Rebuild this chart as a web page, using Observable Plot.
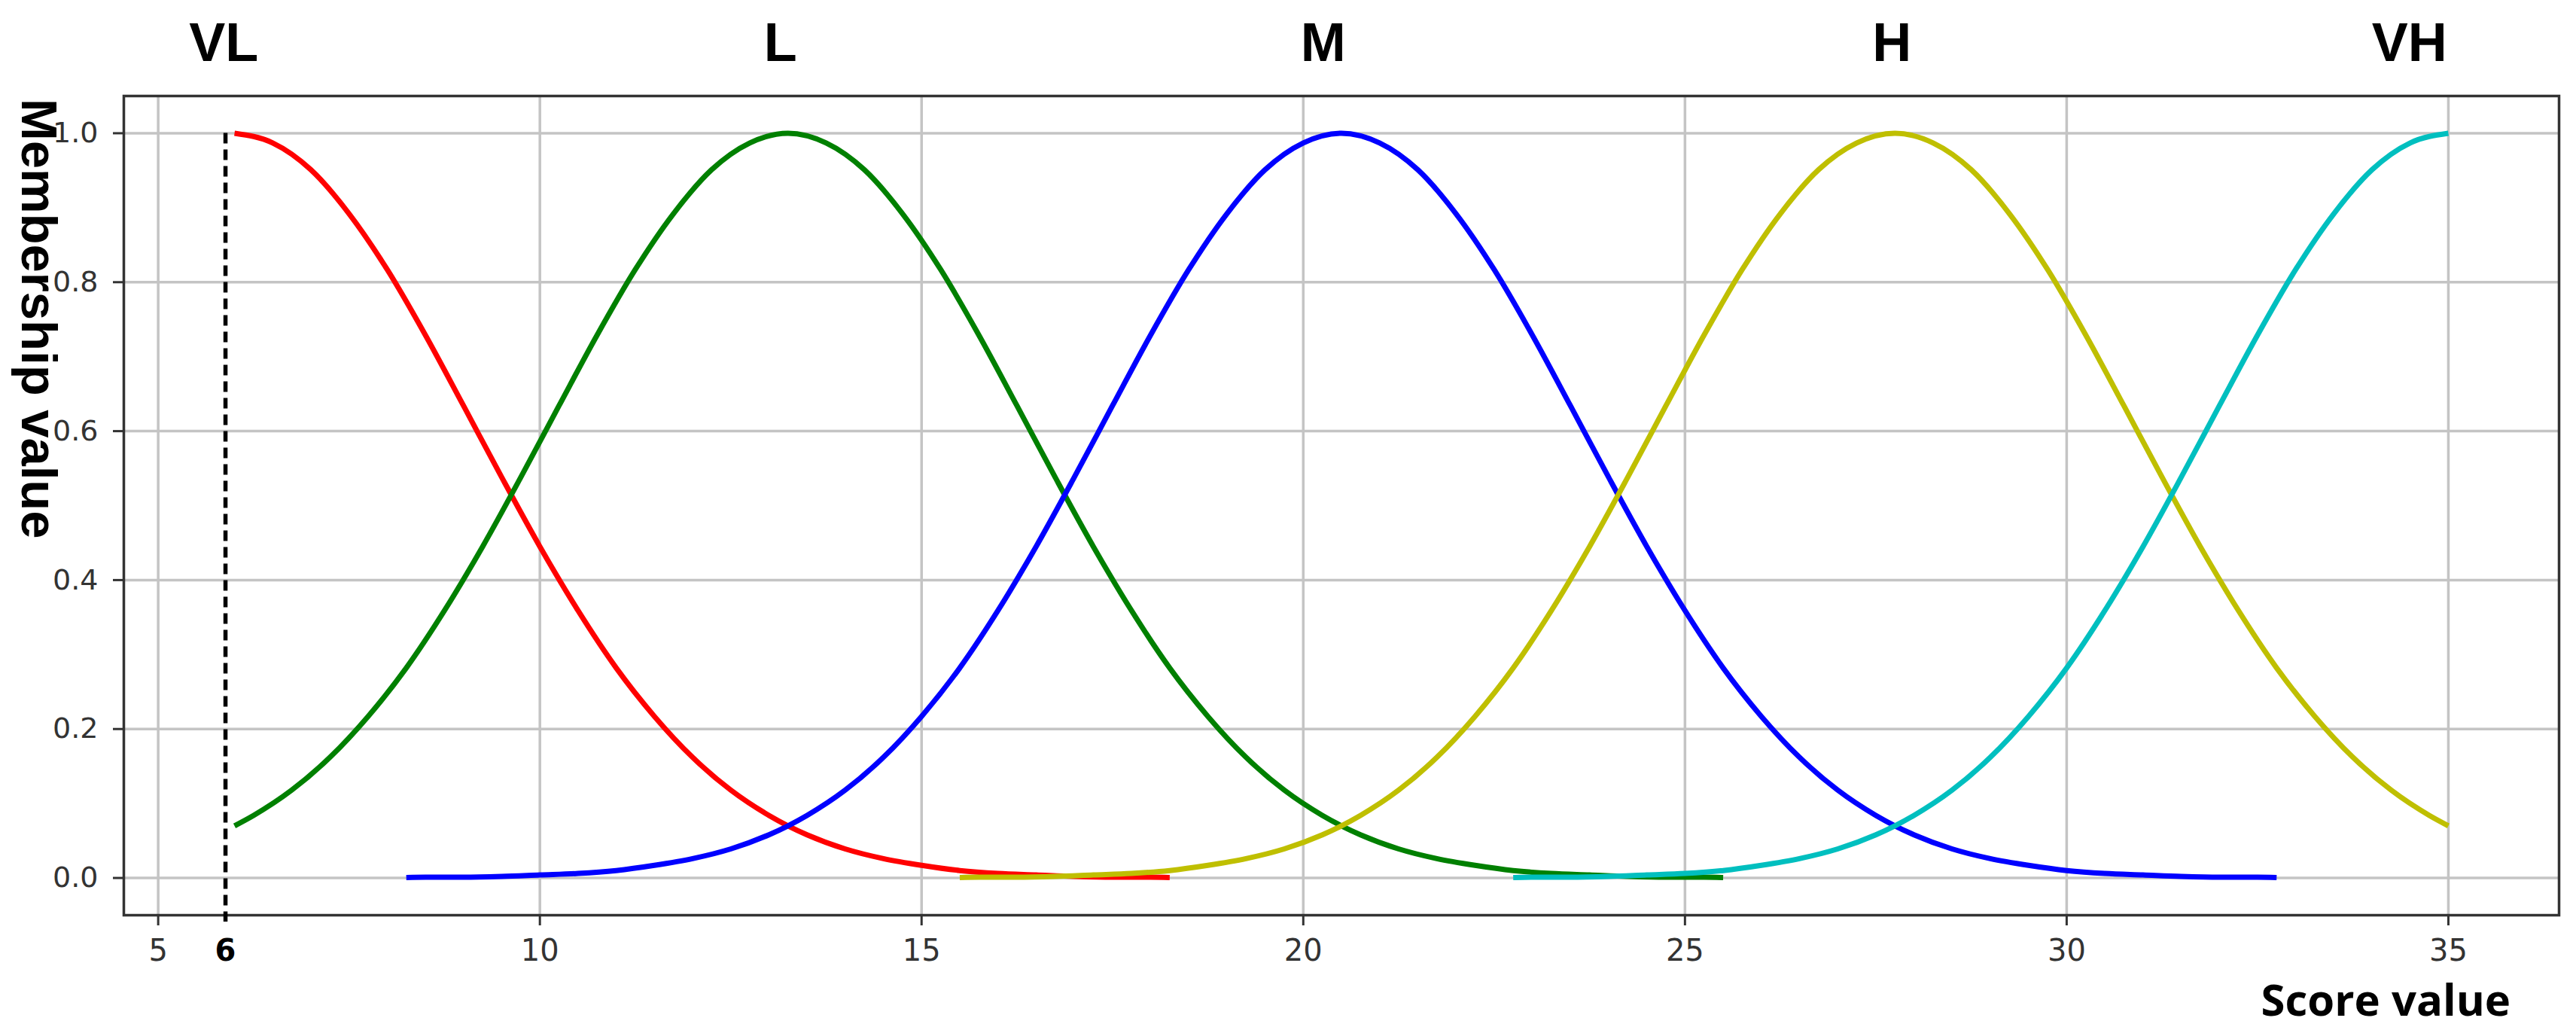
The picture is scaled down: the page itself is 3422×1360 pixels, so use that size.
<!DOCTYPE html>
<html>
<head>
<meta charset="utf-8">
<script src="https://cdn.jsdelivr.net/npm/d3@7"></script>
<script src="https://cdn.jsdelivr.net/npm/@observablehq/plot@0.6"></script>
<style>
  html, body { margin: 0; padding: 0; background: #fff; }
  #chart svg { display: block; }
</style>
</head>
<body>
<div id="chart"></div>
<script>
// Linguistic categories and their membership curves
const categories = ["VL", "L", "M", "H", "VH"];
const centers    = [6, 13.25, 20.5, 27.75, 35];      // score at which membership = 1
const spanStart  = [6, 6, 8.25, 15.5, 22.75];        // first score drawn for each curve
const spanEnd    = [18.25, 25.5, 32.75, 35, 35];     // last score drawn for each curve
const colors     = ["#ff0000", "#008000", "#0000ff", "#bfbf00", "#00bfbf"];

// Shared bell profile: distance from the peak (score units) -> membership value
const offsets    = [0, 0.5, 1, 1.5, 2, 2.5, 3, 3.5, 4, 4.5, 5, 5.5, 6, 6.5, 7, 7.25,
                    7.5, 8, 8.5, 9, 9.5, 10, 10.5, 11, 11.5, 12, 12.25];
const membership = [1.000, 0.987, 0.951, 0.892, 0.817, 0.729, 0.634, 0.538, 0.445, 0.359,
                    0.282, 0.217, 0.162, 0.118, 0.084, 0.070, 0.058, 0.039, 0.026, 0.017,
                    0.010, 0.006, 0.004, 0.002, 0.001, 0.001, 0.0005];

// Category label positions above the plot (score units)
const labelX = [5.86, 13.15, 20.26, 27.71, 34.49];

// Axis ticks
const xTicks = [5, 10, 15, 20, 25, 30, 35];
const yTicks = [0, 0.2, 0.4, 0.6, 0.8, 1.0];
const markedScore = 6;

// Build the point table from the arrays above
const points = [];
categories.forEach((cat, i) => {
  const pts = [];
  offsets.forEach((d, k) => {
    const left = centers[i] - d, right = centers[i] + d;
    if (left >= spanStart[i] - 1e-9) pts.push({cat, x: left, y: membership[k]});
    if (d > 0 && right <= spanEnd[i] + 1e-9) pts.push({cat, x: right, y: membership[k]});
  });
  pts.sort((a, b) => a.x - b.x);
  points.push(...pts);
});

const W = 3422, H = 1360;
const tickFont = "DejaVu Sans";
const boldFont = "Liberation Sans";

const chart = Plot.plot({
  width: W,
  height: H,
  marginLeft: 164,
  marginRight: 23,
  marginTop: 127,
  marginBottom: 145,
  style: { fontFamily: tickFont, background: "#fff", overflow: "visible" },
  x: { domain: [4.55, 36.45], label: null },
  y: { domain: [-0.05, 1.05], label: null },
  color: { domain: categories, range: colors },
  marks: [
    Plot.gridX(xTicks, { stroke: "#c4c4c4", strokeOpacity: 1, strokeWidth: 3.5 }),
    Plot.gridY(yTicks, { stroke: "#c4c4c4", strokeOpacity: 1, strokeWidth: 3.5 }),
    Plot.axisX({ ticks: xTicks, tickSize: 14, tickPadding: 18, fontSize: 40, stroke: "#333", fill: "#333", strokeWidth: 3, label: null }),
    Plot.axisY({ ticks: yTicks, tickSize: 14, tickPadding: 20, fontSize: 38, stroke: "#333", fill: "#333", strokeWidth: 3, tickFormat: d3.format(".1f"), label: null }),
    Plot.frame({ stroke: "#333", strokeWidth: 3.5 }),
    Plot.line(points, { x: "x", y: "y", z: "cat", stroke: "cat", strokeWidth: 7, curve: "monotone-x", strokeLinecap: "butt" }),
    Plot.ruleX([markedScore], { y1: () => 1.0, y2: () => -0.059, dx: -12, stroke: "black", strokeWidth: 5.5, strokeDasharray: "14,8" }),
    Plot.text([markedScore], { x: d => d, y: () => -0.05, text: d => String(d), dx: -12, dy: 32, lineAnchor: "top", fontSize: 40, fontWeight: "bold", fill: "black", fontFamily: tickFont }),
    Plot.text(categories, { x: (d, i) => labelX[i], y: () => 1.12, text: d => d, fontSize: 72, fontWeight: "bold", fill: "black", fontFamily: boldFont, lineAnchor: "middle" }),
    Plot.text(["Membership value"], { x: () => 3.43, y: () => 0.751, text: d => d, rotate: 90, fontSize: 67, fontWeight: "bold", fill: "black", fontFamily: boldFont, lineAnchor: "middle" }),
    Plot.text(["Score value"], { x: () => 34.18, y: () => -0.166, text: d => d, fontSize: 58, fontWeight: "bold", fill: "black", fontFamily: "Open Sans", lineAnchor: "middle" })
  ]
});

document.getElementById("chart").appendChild(chart);
</script>
</body>
</html>
